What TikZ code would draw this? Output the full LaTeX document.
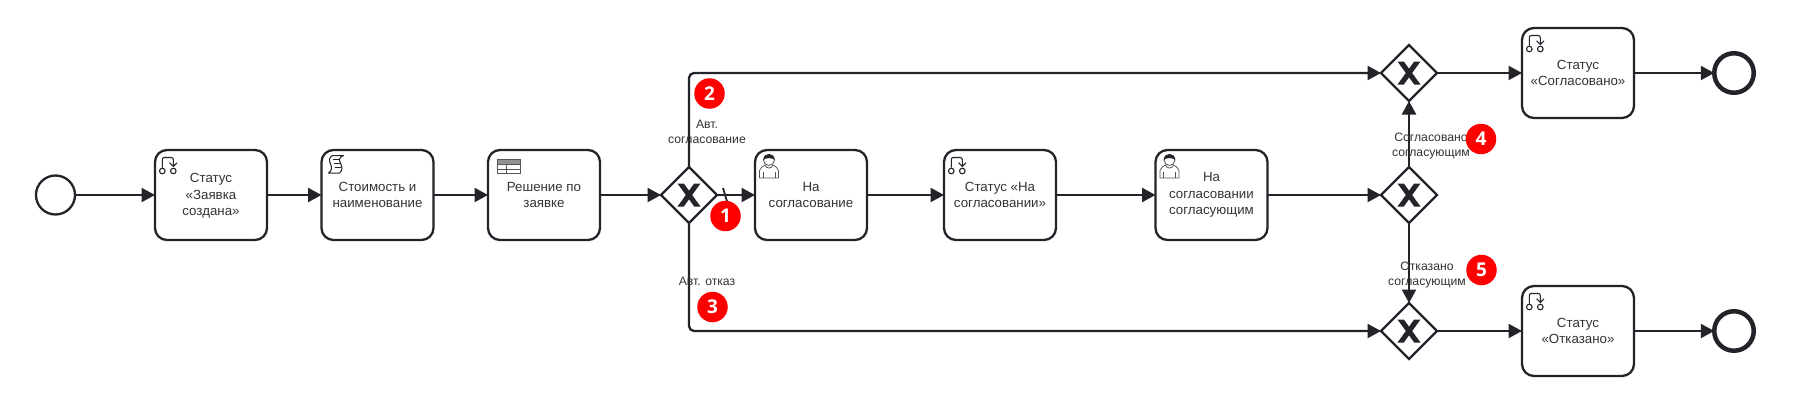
\documentclass[tikz,border=0pt]{standalone}
\usepackage{fontspec}
\setmainfont{Liberation Sans}
\newfontfamily\badgefont{Open Sans}
\usetikzlibrary{arrows.meta,shapes.geometric}
\definecolor{ink}{HTML}{22242A}
\definecolor{txt}{HTML}{333333}
\definecolor{icongray}{HTML}{555555}
\definecolor{badgered}{HTML}{FF0000}
\tikzset{
  x=1pt,y=-1pt,
  task/.style={draw=ink,line width=2.3pt,rounded corners=12pt,minimum width=112pt,minimum height=90pt,inner sep=0pt,outer sep=0pt,align=center,text=txt,font=\fontsize{13.3}{16.4}\selectfont},
  gate/.style={draw=ink,line width=2.3pt,diamond,aspect=1,minimum width=56pt,minimum height=56pt,inner sep=0pt,outer sep=0pt},
  startev/.style={draw=ink,line width=2.3pt,circle,minimum size=39pt,inner sep=0pt,outer sep=0pt},
  endev/.style={draw=ink,line width=4.5pt,circle,minimum size=39.5pt,inner sep=0pt,outer sep=0pt},
  flow/.style={draw=ink,line width=2.3pt,-{Triangle[length=13.5pt,width=14pt]}},
  lab/.style={align=center,text=txt,inner sep=0pt,font=\fontsize{12.2}{15}\selectfont},
  badge/.style={circle,fill=badgered,text=white,minimum size=30.5pt,inner sep=0pt,font=\badgefont\bfseries\fontsize{19}{19}\selectfont},
  pics/statusicon/.style={code={
    \draw[ink,line width=1.1pt] (7.3,21) circle (2.8);
    \draw[ink,line width=1.1pt] (18.3,21) circle (2.8);
    \draw[ink,line width=1.1pt,rounded corners=2pt] (7.3,17.5) -- (7.3,7.5) -- (18.3,7.5) -- (18.3,16);
    \draw[ink,line width=1.1pt] (14.6,12.8) -- (18.3,16.4) -- (22,12.8);
  }},
  pics/scripticon/.style={code={
    \draw[ink,line width=1pt,line join=round] (11,5.5) -- (22,5.5) .. controls (18,7) and (17,10) .. (19,13) .. controls (21,17) and (21,21) .. (18,23) -- (7,23) .. controls (10,21) and (11,18) .. (9,14) .. controls (7,10) and (8,7) .. (11,5.5) -- cycle;
    \draw[ink,line width=.8pt] (11,9) -- (18,9) (12,13) -- (19,13) (13,17) -- (19.5,17);
  }},
  pics/tableicon/.style={code={
    \fill[gray!85] (9.3,9.3) rectangle (32.7,14.3);
    \draw[icongray,line width=1pt] (9.3,9.3) rectangle (32.7,23.3) (9.3,14.3) -- (32.7,14.3) (9.3,19) -- (32.7,19) (18.7,14.3) -- (18.7,23.3);
  }},
  pics/usericon/.style={code={
    \draw[icongray,line width=.8pt,line join=round,fill=white] (4.5,28) -- (4.5,20.5) .. controls (5,17.5) and (8,16.5) .. (10,15) .. controls (11,19) and (17,19) .. (18,15) .. controls (20,16.5) and (23,17.5) .. (23.5,20.5) -- (23.5,28) -- cycle;
    \draw[icongray,line width=.8pt] (8,22) -- (8,28) (20,22) -- (20,28);
    \draw[icongray,line width=.8pt,fill=white] (14,10) circle (5.5);
    \fill[ink] (8.3,10) .. controls (8.3,6) and (11,4) .. (14,4) .. controls (17,4) and (19.7,6) .. (19.7,10) .. controls (18,7.5) and (10,7.5) .. (8.3,10) -- cycle;
  }},
}
\begin{document}
\begin{tikzpicture}
\useasboundingbox[fill=white] (0,0) rectangle (1816,418);
\node[startev] (s) at (55.5,195) {};
\node[task] (t1) at (211,195) {\rule{0pt}{11pt}Статус\\«Заявка\\создана»};
\node[task] (t2) at (377.5,195) {Стоимость и\\наименование};
\node[task] (t3) at (544,195) {Решение по\\заявке};
\node[gate] (g1) at (689,195) {};
\node[task] (t4) at (811,195) {На\\согласование};
\node[task] (t5) at (1000,195) {Статус «На\\согласовании»};
\node[task] (t6) at (1211.5,195) {На\\согласовании\\согласующим};
\node[gate] (gm) at (1409,195) {};
\node[gate] (gt) at (1409,73) {};
\node[gate] (gb) at (1409,331) {};
\node[task] (tt) at (1578,73) {Статус\\«Согласовано»};
\node[task] (tb) at (1578,331) {Статус\\«Отказано»};
\node[endev] (et) at (1734,73) {};
\node[endev] (eb) at (1734,331) {};

\foreach \g in {g1,gm,gt,gb}{
  \fill[ink] ([shift={(-11.5,-11.5)}]\g.center) -- ([shift={(-5.2,-11.5)}]\g.center) -- ([shift={(11.5,11.5)}]\g.center) -- ([shift={(5.2,11.5)}]\g.center) -- cycle;
  \fill[ink] ([shift={(11.5,-11.5)}]\g.center) -- ([shift={(5.2,-11.5)}]\g.center) -- ([shift={(-11.5,11.5)}]\g.center) -- ([shift={(-5.2,11.5)}]\g.center) -- cycle;
}
\pic at (t1.north west) {statusicon};
\pic at (t5.north west) {statusicon};
\pic at (tt.north west) {statusicon};
\pic at (tb.north west) {statusicon};
\pic at (t2.north west) {scripticon};
\pic at (t3.north west) {tableicon};
\pic at (t4.north west) {usericon};
\pic at (t6.north west) {usericon};

\draw[flow] (s) -- (t1);
\draw[flow] (t1) -- (t2);
\draw[flow] (t2) -- (t3);
\draw[flow] (t3) -- (g1);
\draw[flow] (g1) -- (t4);
\draw[flow] (t4) -- (t5);
\draw[flow] (t5) -- (t6);
\draw[flow] (t6) -- (gm);
\draw[flow] (gm) -- (gt);
\draw[flow] (gm) -- (gb);
\draw[flow,rounded corners=5pt] (g1.north) |- (gt.west);
\draw[flow,rounded corners=5pt] (g1.south) |- (gb.west);
\draw[flow] (gt) -- (tt);
\draw[flow] (gb) -- (tb);
\draw[flow] (tt) -- (et);
\draw[flow] (tb) -- (eb);

\coordinate (tickA) at (723,188);
\coordinate (tickB) at (727.5,203);
\draw[ink,line width=1.8pt] (tickA) -- (tickB);

\node[lab] (l2) at (707,131.5) {Авт.\\согласование};
\node[lab] (l3) at (707,281) {Авт. отказ};
\node[lab] (l4) at (1431,146) {Согласовано\\согласующим};
\node[lab] (l5) at (1427,275.5) {Отказано\\согласующим};

\node[badge] (b1) at (725.5,216) {1};
\node[badge] (b2) at (709.5,93.5) {2};
\node[badge] (b3) at (712.5,307) {3};
\node[badge] (b4) at (1481,139) {4};
\node[badge] (b5) at (1481.5,270) {5};
\end{tikzpicture}
\end{document}
